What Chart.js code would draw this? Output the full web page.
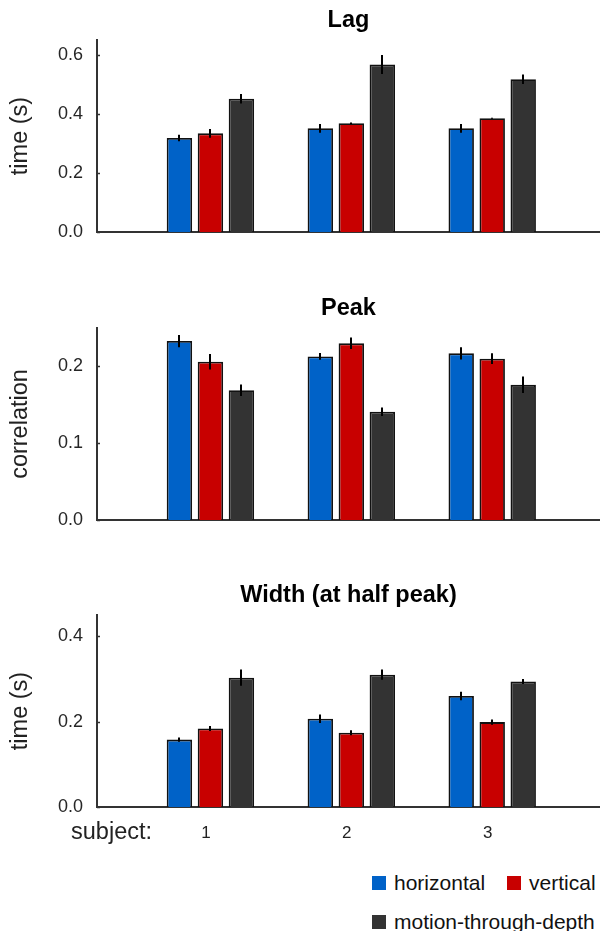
<!DOCTYPE html>
<html><head><meta charset="utf-8">
<script src="https://cdn.jsdelivr.net/npm/chart.js@4.4.1/dist/chart.umd.min.js"></script>
<style>
html,body{margin:0;padding:0;background:#fff;}
#wrap{position:relative;width:600px;height:931px;overflow:hidden;font-family:'Liberation Sans',Arial,Helvetica,sans-serif;}
.panel{position:absolute;left:0;width:600px;}
.panel canvas{display:block;}
#legend{position:absolute;left:372px;top:870px;color:#111;font-size:21px;line-height:26px;}
.row{display:flex;align-items:center;height:26px;}
.row2{margin-top:13px;}
.item{display:flex;align-items:center;margin-right:22px;}
.sw{width:14px;height:14px;margin-right:8px;}
</style></head><body>
<div id="wrap">
  <div class="panel" style="top:0px;height:250px"><canvas id="c1" width="600" height="250"></canvas></div>
  <div class="panel" style="top:288px;height:250px"><canvas id="c2" width="600" height="250"></canvas></div>
  <div class="panel" style="top:575px;height:275px"><canvas id="c3" width="600" height="275"></canvas></div>
  <div id="legend"></div>
</div>
<script>
// ---- data ----
const subjects = [1, 2, 3];
const subjectTickLabels = ['subject:', '1', '2', '3'];
const subjectLabelValues = [0.33, 1, 2, 3];
const seriesNames = ['horizontal', 'vertical', 'motion-through-depth'];
const seriesColors = ['#0062c8', '#c80000', '#333333'];

const lagHorizontal = [0.318, 0.351, 0.351];
const lagVertical = [0.334, 0.368, 0.385];
const lagDepth = [0.451, 0.567, 0.517];
const lagHorizontalErr = [0.011, 0.015, 0.015];
const lagVerticalErr = [0.015, 0.003, 0.002];
const lagDepthErr = [0.016, 0.032, 0.016];
const lagTicks = [0.0, 0.2, 0.4, 0.6];

const peakHorizontal = [0.233, 0.213, 0.217];
const peakVertical = [0.206, 0.230, 0.210];
const peakDepth = [0.169, 0.141, 0.176];
const peakHorizontalErr = [0.008, 0.0045, 0.008];
const peakVerticalErr = [0.010, 0.0075, 0.007];
const peakDepthErr = [0.0075, 0.0055, 0.0107];
const peakTicks = [0.0, 0.1, 0.2];

const widthHorizontal = [0.158, 0.207, 0.260];
const widthVertical = [0.184, 0.174, 0.199];
const widthDepth = [0.303, 0.310, 0.294];
const widthHorizontalErr = [0.005, 0.010, 0.010];
const widthVerticalErr = [0.006, 0.006, 0.006];
const widthDepthErr = [0.019, 0.012, 0.006];
const widthTicks = [0.0, 0.2, 0.4];

Chart.defaults.font.family = "'Liberation Sans', Arial, Helvetica, sans-serif";

const errorBarPlugin = {
  id: 'errbars',
  afterDatasetsDraw(chart) {
    const ctx = chart.ctx;
    const ys = chart.scales.y;
    ctx.save();
    ctx.strokeStyle = '#333';
    ctx.lineWidth = 1.5;
    ys.ticks.forEach(t => {
      const py = Math.round(ys.getPixelForValue(t.value)) + 0.5;
      ctx.beginPath();
      ctx.moveTo(chart.chartArea.left, py);
      ctx.lineTo(chart.chartArea.left + 3, py);
      ctx.stroke();
    });
    ctx.strokeStyle = '#000';
    ctx.lineWidth = 2;
    chart.data.datasets.forEach((ds, i) => {
      const meta = chart.getDatasetMeta(i);
      meta.data.forEach((el, j) => {
        const v = ds.data[j].y, e = ds.errors[j];
        const x = Math.round(el.x);
        ctx.beginPath();
        ctx.moveTo(x, ys.getPixelForValue(v + e));
        ctx.lineTo(x, ys.getPixelForValue(v - e));
        ctx.stroke();
      });
    });
    ctx.restore();
  }
};

function makeChart(id, title, yTitle, vals, errs, yMax, yTicks, showX, xHeight) {
  const datasets = seriesNames.map((name, k) => ({
    label: name,
    data: subjects.map((s, j) => ({x: s, y: vals[k][j]})),
    errors: errs[k],
    backgroundColor: seriesColors[k],
    borderColor: '#111',
    borderWidth: 1.8,
    xAxisID: 'x',
    yAxisID: 'y',
    categoryPercentage: 0.66,
    barPercentage: 0.82
  }));
  return new Chart(document.getElementById(id), {
    type: 'bar',
    data: {datasets},
    options: {
      responsive: false,
      animation: false,
      events: [],
      layout: {padding: 0},
      plugins: {
        legend: {display: false},
        tooltip: {enabled: false},
        title: {
          display: true, text: title, fullSize: false,
          font: {size: 23.5, weight: 'bold'}, color: '#000',
          padding: {top: 6, bottom: 5.8}
        }
      },
      scales: {
        x: {
          type: 'linear', display: false, offset: false, min: 0.195, max: 3.765,
          afterBuildTicks: s => { s.ticks = subjects.map(v => ({value: v})); }
        },
        x2: {
          type: 'linear', position: 'bottom', offset: false, min: 0.227, max: 3.797,
          grid: {display: false, drawTicks: false, offset: false},
          border: {display: true, color: '#333', width: 2},
          ticks: {
            display: showX,
            padding: 13,
            color: '#222',
            autoSkip: false,
            maxRotation: 0,
            font: c => (c.index === 0 ? {size: 23.5, lineHeight: '26px'} : {size: 17, lineHeight: '26px'}),
            callback: (v, i) => subjectTickLabels[i]
          },
          afterBuildTicks: s => { s.ticks = subjectLabelValues.map(v => ({value: v})); },
          afterFit: s => { s.height = xHeight; s.paddingLeft = 0; s.paddingRight = 0; }
        },
        y: {
          type: 'linear', position: 'left', min: 0, max: yMax,
          grid: {display: false, drawTicks: false},
          border: {display: true, color: '#333', width: 2},
          ticks: {
            padding: 14, color: '#262626', font: {size: 18},
            callback: v => Number(v).toFixed(1)
          },
          afterBuildTicks: s => { s.ticks = yTicks.map(v => ({value: v})); },
          title: {
            display: true, text: yTitle, color: '#222',
            font: {size: 23.5}, padding: {top: 6, bottom: 0}
          },
          afterFit: s => { s.width = 97; s.paddingTop = 0; s.paddingBottom = 0; }
        }
      }
    },
    plugins: [errorBarPlugin]
  });
}

makeChart('c1', 'Lag', 'time (s)',
  [lagHorizontal, lagVertical, lagDepth],
  [lagHorizontalErr, lagVerticalErr, lagDepthErr], 0.65, lagTicks, false, 18);
makeChart('c2', 'Peak', 'correlation',
  [peakHorizontal, peakVertical, peakDepth],
  [peakHorizontalErr, peakVerticalErr, peakDepthErr], 0.25, peakTicks, false, 18);
makeChart('c3', 'Width (at half peak)', 'time (s)',
  [widthHorizontal, widthVertical, widthDepth],
  [widthHorizontalErr, widthVerticalErr, widthDepthErr], 0.45, widthTicks, true, 43);

// legend
const lg = document.getElementById('legend');
const rows = [[0, 1], [2]];
rows.forEach((r, ri) => {
  const row = document.createElement('div');
  row.className = 'row' + (ri ? ' row2' : '');
  r.forEach(k => {
    const it = document.createElement('div');
    it.className = 'item';
    const sw = document.createElement('span');
    sw.className = 'sw';
    sw.style.background = seriesColors[k];
    const tx = document.createElement('span');
    tx.textContent = seriesNames[k];
    it.appendChild(sw); it.appendChild(tx);
    row.appendChild(it);
  });
  lg.appendChild(row);
});
</script>
</body></html>
